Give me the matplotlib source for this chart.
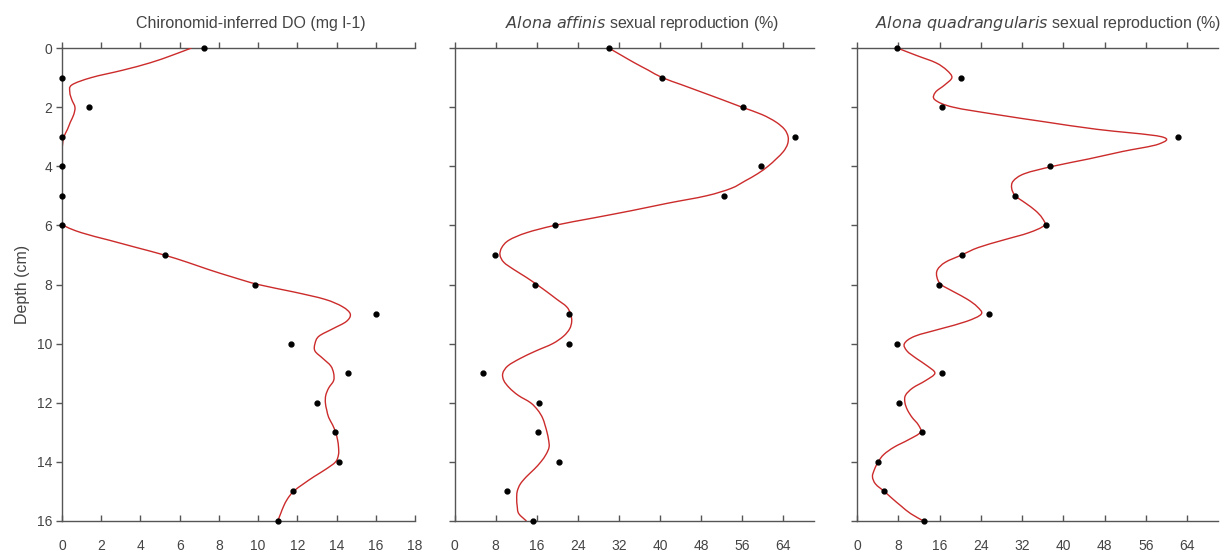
import numpy as np
import matplotlib
matplotlib.use('Agg')
import matplotlib.pyplot as plt
from matplotlib.path import Path
from matplotlib.patches import PathPatch

plt.rcParams['font.family'] = ['Liberation Sans', 'DejaVu Sans']

# sample depths (cm) and measured values
depth = [0, 1, 2, 3, 4, 5, 6, 7, 8, 9, 10, 11, 12, 13, 14, 15, 16]
do_vals = [7.25, 0, 1.4, 0, 0, 0, 0, 5.24, 9.84, 16.0, 11.7, 14.6, 13.0, 13.9, 14.15, 11.77, 11.0]
affinis = [30.0, 40.4, 56.1, 66.2, 59.6, 52.4, 19.6, 7.9, 15.7, 22.3, 22.3, 5.6, 16.5, 16.2, 20.4, 10.3, 15.3]
quadr = [7.8, 20.1, 16.5, 62.3, 37.4, 30.6, 36.6, 20.3, 15.9, 25.5, 7.8, 16.5, 8.2, 12.7, 4.1, 5.2, 12.9]

# smoothed curves
curve_depth = [0, 0.25, 0.5, 0.75, 1.0, 1.25, 1.5, 1.75, 2.0, 2.25, 2.5, 2.75, 3.0, 3.25, 3.5,
               3.75, 4.0, 4.25, 4.5, 4.75, 5.0, 5.25, 5.5, 5.75, 6.0, 6.25, 6.5, 6.75, 7.0,
               7.25, 7.5, 7.75, 8.0, 8.25, 8.5, 8.75, 9.0, 9.25, 9.5, 9.75, 10.0, 10.25, 10.5,
               10.75, 11.0, 11.25, 11.5, 11.75, 12.0, 12.25, 12.5, 12.75, 13.0, 13.25, 13.5,
               13.75, 14.0, 14.25, 14.5, 14.75, 15.0, 15.25, 15.5, 15.75, 16.0]
do_curve = [6.6, 5.6, 4.5, 3.1, 1.5, 0.5, 0.4, 0.5, 0.66, 0.6, 0.43, 0.28, 0.1, 0.03, 0.0,
            0.0, 0.0, 0.0, 0.0, 0.0, 0.0, 0.0, 0.0, 0.0, 0.1, 1.0, 2.4, 3.8, 5.2,
            6.4, 7.5, 8.7, 10.0, 11.8, 13.4, 14.3, 14.7, 14.5, 13.8, 13.1, 12.9, 12.9, 13.3,
            13.7, 13.85, 13.85, 13.6, 13.45, 13.43, 13.5, 13.6, 13.8, 13.95, 14.05, 14.1,
            14.1, 13.95, 13.45, 12.85, 12.3, 11.8, 11.5, 11.3, 11.15, 11.0]
affinis_curve = [30.0, 32.5, 35.0, 37.7, 40.4, 44.3, 48.2, 52.1, 55.9, 59.8, 62.5, 64.2, 64.9, 64.8, 64.0,
                 62.6, 61.0, 59.0, 56.5, 53.8, 49.0, 41.5, 34.5, 27.0, 19.5, 14.0, 10.6, 9.2, 8.85,
                 9.6, 11.6, 13.9, 16.0, 18.0, 19.9, 21.8, 22.6, 22.8, 22.4, 21.2, 19.1, 15.8, 12.8,
                 10.4, 9.4, 9.6, 10.7, 12.4, 14.8, 16.2, 17.1, 17.6, 18.0, 18.3, 18.4,
                 17.8, 16.8, 15.5, 14.0, 12.8, 12.2, 12.1, 12.2, 12.5, 14.0]
quadr_curve = [7.8, 11.5, 15.3, 17.4, 18.4, 17.0, 15.2, 15.1, 18.6, 27.0, 36.5, 46.5, 59.0, 58.5, 51.5,
               45.0, 38.0, 32.5, 30.3, 30.0, 30.7, 32.7, 34.6, 35.9, 36.3, 33.3, 28.3, 23.5, 20.3,
               17.1, 15.6, 15.5, 16.3, 18.8, 21.4, 23.3, 24.1, 21.2, 16.2, 11.2, 9.2, 9.7, 11.5,
               13.6, 15.1, 13.3, 10.8, 9.4, 9.3, 9.8, 10.7, 11.9, 12.3, 10.0, 7.2,
               5.2, 4.1, 3.4, 3.0, 3.6, 5.3, 6.9, 8.6, 10.4, 12.9]


def smooth_path(xs, ys):
    # Catmull-Rom through the read values, drawn as cubic Bezier segments
    P = np.column_stack([xs, ys]).astype(float)
    P = np.vstack([P[0], P, P[-1]])
    verts = [P[1]]
    codes = [Path.MOVETO]
    for i in range(1, len(P) - 2):
        c1 = P[i] + (P[i + 1] - P[i - 1]) / 6
        c2 = P[i + 1] - (P[i + 2] - P[i]) / 6
        verts += [c1, c2, P[i + 1]]
        codes += [Path.CURVE4] * 3
    return Path(verts, codes)


W, H = 1223, 551
fig = plt.figure(figsize=(W / 100, H / 100), dpi=100)
fig.patch.set_facecolor('white')

axcol = '#555555'
txtcol = '#444444'
red = '#cc2b2b'

panels = [
    (62, 415, (0, 18), np.arange(0, 19, 2), do_vals, do_curve),
    (454.5, 814.3, (0, 70), np.arange(0, 65, 8), affinis, affinis_curve),
    (857, 1218, (0, 70), np.arange(0, 65, 8), quadr, quadr_curve),
]
top, bot = 48, 521

axes = []
for i, (x0, x1, xl, xt, pts, crv) in enumerate(panels):
    ax = fig.add_axes([x0 / W, 1 - bot / H, (x1 - x0) / W, (bot - top) / H])
    ax.add_patch(PathPatch(smooth_path(crv, curve_depth), facecolor='none',
                           edgecolor=red, lw=1.0, zorder=2))
    ax.plot(pts, depth, 'o', color='black', ms=3.5, zorder=3, clip_on=False)
    ax.set_xlim(*xl)
    ax.set_ylim(16, 0)
    ax.set_xticks(xt)
    ax.set_yticks(np.arange(0, 17, 2))
    for s in ['right', 'top']:
        ax.spines[s].set_visible(False)
    for s in ['left', 'bottom']:
        ax.spines[s].set_color(axcol)
        ax.spines[s].set_linewidth(1.0)
    ax.tick_params(axis='x', direction='in', length=4, width=1, color=axcol,
                   labelsize=10, labelcolor=txtcol, pad=13)
    ax.tick_params(axis='y', direction='out', length=4, width=1, color=axcol,
                   labelsize=10, labelcolor=txtcol, pad=3)
    if i > 0:
        ax.set_yticklabels([])
    sec = ax.secondary_xaxis('top')
    sec.set_xticks(xt)
    sec.tick_params(direction='out', length=4, width=1, color=axcol, labeltop=False)
    sec.spines['top'].set_color(axcol)
    sec.spines['top'].set_linewidth(1.0)
    axes.append(ax)

axes[0].set_ylabel('Depth (cm)', fontsize=11.5, color=txtcol, labelpad=5)

fig.text(251 / W, 1 - 28 / H, 'Chironomid-inferred DO (mg l-1)', ha='center', va='baseline',
         fontsize=11.5, color=txtcol)
fig.text(642 / W, 1 - 28 / H, r'$\mathit{Alona\ affinis}$' + ' sexual reproduction (%)', ha='center',
         va='baseline', fontsize=11.5, color=txtcol)
fig.text(1048 / W, 1 - 28 / H, r'$\mathit{Alona\ quadrangularis}$' + ' sexual reproduction (%)',
         ha='center', va='baseline', fontsize=11.5, color=txtcol)

fig.savefig('out.png', dpi=100)
